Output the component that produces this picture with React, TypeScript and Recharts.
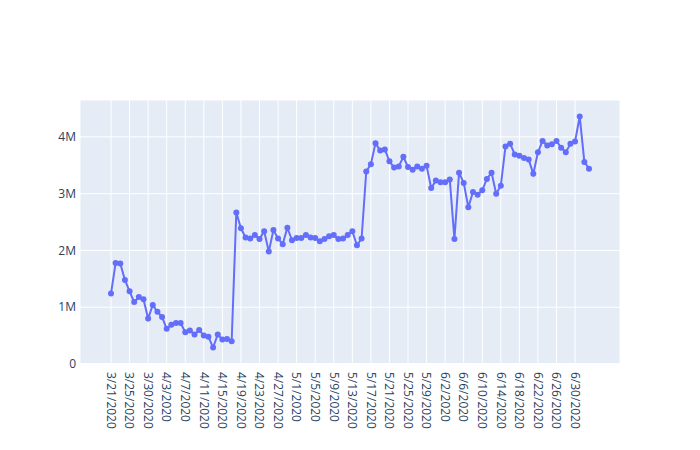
import { LineChart, Line, XAxis, YAxis, CartesianGrid, ReferenceLine } from 'recharts';

// ---------------------------------------------------------------------------
// Data
// ---------------------------------------------------------------------------

const dates = [
  '3/21/2020', '3/22/2020', '3/23/2020', '3/24/2020', '3/25/2020', '3/26/2020', '3/27/2020', '3/28/2020',
  '3/30/2020', '3/31/2020', '4/1/2020', '4/2/2020', '4/3/2020', '4/4/2020', '4/5/2020', '4/6/2020',
  '4/7/2020', '4/8/2020', '4/9/2020', '4/10/2020', '4/11/2020', '4/12/2020', '4/13/2020', '4/14/2020',
  '4/15/2020', '4/16/2020', '4/17/2020', '4/18/2020', '4/19/2020', '4/20/2020', '4/21/2020', '4/22/2020',
  '4/23/2020', '4/24/2020', '4/25/2020', '4/26/2020', '4/27/2020', '4/28/2020', '4/29/2020', '4/30/2020',
  '5/1/2020', '5/2/2020', '5/3/2020', '5/4/2020', '5/5/2020', '5/6/2020', '5/7/2020', '5/8/2020',
  '5/9/2020', '5/10/2020', '5/11/2020', '5/12/2020', '5/13/2020', '5/14/2020', '5/15/2020', '5/16/2020',
  '5/17/2020', '5/18/2020', '5/19/2020', '5/20/2020', '5/21/2020', '5/22/2020', '5/23/2020', '5/24/2020',
  '5/25/2020', '5/26/2020', '5/27/2020', '5/28/2020', '5/29/2020', '5/30/2020', '5/31/2020', '6/1/2020',
  '6/2/2020', '6/3/2020', '6/4/2020', '6/5/2020', '6/6/2020', '6/7/2020', '6/8/2020', '6/9/2020',
  '6/10/2020', '6/11/2020', '6/12/2020', '6/13/2020', '6/14/2020', '6/15/2020', '6/16/2020', '6/17/2020',
  '6/18/2020', '6/19/2020', '6/20/2020', '6/21/2020', '6/22/2020', '6/23/2020', '6/24/2020', '6/25/2020',
  '6/26/2020', '6/27/2020', '6/28/2020', '6/29/2020', '6/30/2020', '7/1/2020', '7/2/2020', '7/3/2020',
];

const values = [
  1240000, 1780000, 1770000, 1480000, 1280000, 1090000, 1180000, 1140000,
  800000, 1040000, 920000, 830000, 620000, 690000, 720000, 720000,
  560000, 590000, 520000, 600000, 500000, 480000, 290000, 520000,
  430000, 440000, 400000, 2670000, 2390000, 2230000, 2210000, 2270000,
  2200000, 2340000, 1980000, 2360000, 2210000, 2110000, 2400000, 2180000,
  2220000, 2220000, 2270000, 2230000, 2220000, 2160000, 2200000, 2250000,
  2270000, 2200000, 2210000, 2270000, 2340000, 2090000, 2210000, 3390000,
  3520000, 3890000, 3760000, 3780000, 3570000, 3460000, 3480000, 3650000,
  3470000, 3420000, 3480000, 3440000, 3490000, 3100000, 3230000, 3200000,
  3200000, 3250000, 2200000, 3370000, 3190000, 2760000, 3030000, 2980000,
  3060000, 3260000, 3370000, 3000000, 3140000, 3830000, 3880000, 3690000,
  3670000, 3630000, 3600000, 3350000, 3730000, 3930000, 3850000, 3870000,
  3930000, 3810000, 3730000, 3880000, 3920000, 4360000, 3560000, 3440000,
];

const yTicks = [0, 1000000, 2000000, 3000000, 4000000];

const data = dates.map((date, i) => ({ date, value: values[i] }));

// ---------------------------------------------------------------------------
// Helpers
// ---------------------------------------------------------------------------

const FONT = '"Open Sans", verdana, arial, sans-serif';
const TEXT = '#2a3f5f';

function formatY(v: number) {
  return v === 0 ? '0' : `${v / 1000000}M`;
}

function DateTick({ x, y, payload }: any) {
  return (
    <text
      transform={`translate(${x},${y}) rotate(90)`}
      textAnchor="start"
      dy="0.35em"
      fontSize={12}
      fontFamily={FONT}
      fill={TEXT}
    >
      {payload.value}
    </text>
  );
}

// ---------------------------------------------------------------------------
// Component
// ---------------------------------------------------------------------------

export default function App() {
  return (
    <div style={{ position: 'absolute', top: 0, left: 0, width: 700, height: 450, background: '#fff' }}>
      <LineChart
        width={700}
        height={450}
        data={data}
        margin={{ top: 100, right: 80, bottom: 0, left: 0 }}
      >
        <CartesianGrid fill="#E5ECF6" stroke="#fff" strokeWidth={1} />
        <XAxis
          dataKey="date"
          interval={3}
          height={86}
          padding={{ left: 31, right: 31 }}
          axisLine={false}
          tickLine={false}
          tickSize={6}
          tickMargin={2}
          tick={<DateTick />}
        />
        <YAxis
          width={80}
          domain={[0, 4650000]}
          ticks={yTicks}
          tickFormatter={formatY}
          axisLine={false}
          tickLine={false}
          tickSize={0}
          tickMargin={4}
          tick={{ fontSize: 12, fontFamily: FONT, fill: TEXT }}
        />
        <ReferenceLine y={0} stroke="#fff" strokeWidth={2} />
        <Line
          type="linear"
          dataKey="value"
          stroke="#636efa"
          strokeWidth={2}
          dot={{ r: 3, fill: '#636efa', stroke: '#636efa', strokeWidth: 0 }}
          activeDot={false}
          isAnimationActive={false}
        />
      </LineChart>
    </div>
  );
}
